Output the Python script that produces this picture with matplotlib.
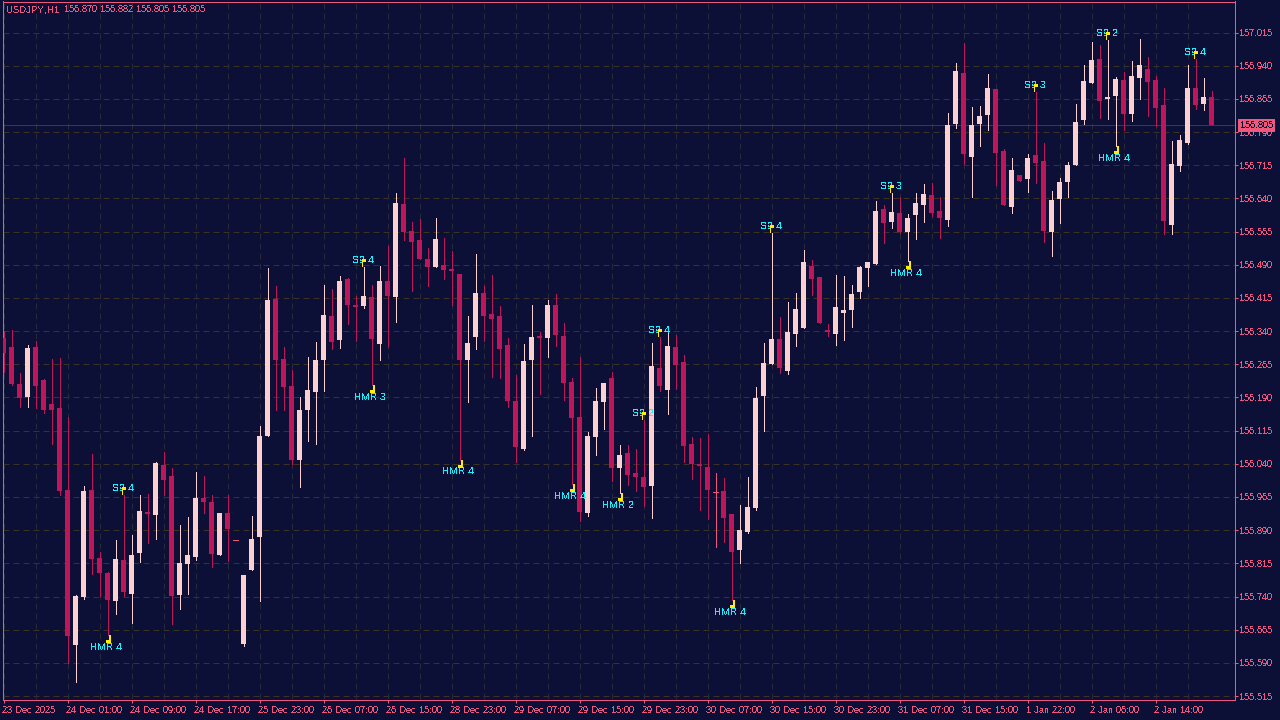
import numpy as np
import matplotlib
matplotlib.use("Agg")
import matplotlib.pyplot as plt
from matplotlib.path import Path
from matplotlib.transforms import ScaledTranslation

plt.rcParams["font.family"] = ["Liberation Sans", "DejaVu Sans"]
plt.rcParams["text.antialiased"] = False
plt.rcParams["text.hinting"] = "native"
plt.rcParams["text.hinting_factor"] = 1

# hourly USDJPY bars
opens = [
    156.324, 156.304, 156.221, 156.191, 156.304, 156.230, 156.175, 156.166, 155.981, 155.630,
    155.739, 155.981, 155.827, 155.793, 155.730, 155.823, 155.746, 155.839, 155.931, 155.924,
    156.037, 156.012, 155.743, 155.814, 155.829, 155.963, 155.954, 155.834, 155.929, 155.868,
    155.633, 155.800, 155.874, 156.103, 156.412, 156.277, 156.216, 156.049, 156.162, 156.202,
    156.275, 156.374, 156.320, 156.458, 156.399, 156.397, 156.417, 156.311, 156.453, 156.417,
    156.627, 156.566, 156.546, 156.503, 156.485, 156.489, 156.480, 156.469, 156.275, 156.327,
    156.426, 156.379, 156.374, 156.309, 156.182, 156.073, 156.275, 156.329, 156.324, 156.399,
    156.329, 156.225, 156.146, 155.929, 156.101, 156.180, 156.234, 156.030, 156.064, 156.019,
    156.010, 155.990, 156.257, 156.207, 156.304, 156.270, 156.085, 156.040, 156.033, 155.976,
    155.979, 155.926, 155.845, 155.886, 155.940, 156.193, 156.266, 156.322, 156.250, 156.333,
    156.347, 156.487, 156.462, 156.343, 156.333, 156.381, 156.388, 156.428, 156.483, 156.492,
    156.616, 156.587, 156.607, 156.564, 156.602, 156.625, 156.648, 156.611, 156.591, 156.808,
    156.923, 156.734, 156.808, 156.829, 156.887, 156.747, 156.620, 156.693, 156.684, 156.738,
    156.725, 156.564, 156.639, 156.677, 156.715, 156.817, 156.901, 156.955, 156.865, 156.871,
    156.908, 156.831, 156.912, 156.933, 156.908, 156.851, 156.580, 156.713, 156.765, 156.890,
    156.853, 156.870,
]
highs = [
    156.340, 156.343, 156.245, 156.309, 156.318, 156.232, 156.277, 156.279, 156.146, 155.743,
    155.990, 156.062, 155.841, 155.795, 155.868, 155.970, 155.879, 155.970, 155.972, 156.044,
    156.067, 156.030, 155.902, 155.920, 156.022, 156.012, 155.970, 155.929, 155.970, 155.868,
    155.788, 155.922, 156.125, 156.483, 156.442, 156.304, 156.252, 156.191, 156.281, 156.315,
    156.444, 156.435, 156.465, 156.460, 156.419, 156.485, 156.444, 156.487, 156.532, 156.652,
    156.731, 156.587, 156.593, 156.528, 156.596, 156.550, 156.521, 156.469, 156.374, 156.514,
    156.442, 156.467, 156.397, 156.324, 156.241, 156.311, 156.399, 156.338, 156.410, 156.424,
    156.358, 156.234, 156.281, 156.112, 156.211, 156.223, 156.248, 156.083, 156.083, 156.073,
    156.139, 156.313, 156.327, 156.338, 156.331, 156.286, 156.101, 156.098, 156.107, 156.019,
    156.008, 155.926, 155.947, 156.010, 156.214, 156.313, 156.562, 156.372, 156.406, 156.426,
    156.523, 156.501, 156.462, 156.356, 156.467, 156.465, 156.444, 156.487, 156.496, 156.634,
    156.625, 156.652, 156.643, 156.605, 156.652, 156.673, 156.675, 156.643, 156.833, 156.946,
    156.991, 156.847, 156.849, 156.921, 156.887, 156.752, 156.731, 156.693, 156.740, 156.880,
    156.765, 156.657, 156.686, 156.722, 156.853, 156.942, 156.994, 156.987, 156.998, 156.914,
    156.926, 156.951, 157.000, 156.960, 156.917, 156.890, 156.770, 156.783, 156.942, 156.955,
    156.912, 156.882,
]
lows = [
    156.248, 156.218, 156.168, 156.168, 156.166, 156.155, 156.085, 155.970, 155.590, 155.547,
    155.734, 155.791, 155.741, 155.653, 155.700, 155.741, 155.680, 155.818, 155.861, 155.870,
    155.970, 155.678, 155.712, 155.746, 155.823, 155.929, 155.807, 155.834, 155.820, 155.868,
    155.628, 155.800, 155.730, 156.103, 156.162, 156.162, 156.040, 155.988, 156.092, 156.085,
    156.205, 156.300, 156.302, 156.356, 156.318, 156.392, 156.218, 156.275, 156.304, 156.361,
    156.546, 156.431, 156.503, 156.442, 156.485, 156.458, 156.399, 156.049, 156.180, 156.300,
    156.318, 156.236, 156.234, 156.168, 156.044, 156.071, 156.103, 156.198, 156.281, 156.306,
    156.184, 155.994, 155.911, 155.922, 156.060, 156.119, 156.001, 155.974, 155.992, 155.979,
    155.945, 155.917, 156.205, 156.153, 156.209, 156.044, 156.006, 155.936, 155.915, 155.852,
    155.863, 155.732, 155.816, 155.884, 155.936, 156.114, 156.266, 156.245, 156.243, 156.306,
    156.347, 156.422, 156.358, 156.329, 156.309, 156.320, 156.349, 156.415, 156.442, 156.492,
    156.539, 156.573, 156.562, 156.498, 156.548, 156.587, 156.600, 156.550, 156.578, 156.799,
    156.718, 156.643, 156.758, 156.795, 156.670, 156.625, 156.607, 156.679, 156.654, 156.675,
    156.541, 156.510, 156.584, 156.643, 156.715, 156.808, 156.901, 156.822, 156.819, 156.758,
    156.795, 156.815, 156.865, 156.826, 156.804, 156.559, 156.559, 156.702, 156.763, 156.842,
    156.840, 156.805,
]
closes = [
    156.291, 156.221, 156.189, 156.302, 156.216, 156.162, 156.162, 155.979, 155.651, 155.741,
    155.979, 155.825, 155.793, 155.732, 155.825, 155.750, 155.834, 155.933, 155.926, 156.042,
    156.003, 155.741, 155.816, 155.834, 155.963, 155.954, 155.836, 155.929, 155.893, 155.868,
    155.788, 155.870, 156.103, 156.410, 156.275, 156.214, 156.049, 156.162, 156.207, 156.275,
    156.376, 156.315, 156.453, 156.399, 156.394, 156.419, 156.322, 156.453, 156.419, 156.630,
    156.564, 156.541, 156.503, 156.485, 156.548, 156.478, 156.476, 156.275, 156.313, 156.426,
    156.374, 156.367, 156.300, 156.182, 156.078, 156.272, 156.327, 156.324, 156.399, 156.331,
    156.223, 156.144, 155.931, 156.103, 156.182, 156.223, 156.030, 156.060, 156.015, 156.010,
    155.988, 156.261, 156.216, 156.306, 156.263, 156.080, 156.040, 156.035, 155.981, 155.976,
    155.917, 155.841, 155.890, 155.942, 156.189, 156.268, 156.322, 156.257, 156.338, 156.390,
    156.496, 156.458, 156.358, 156.338, 156.394, 156.388, 156.424, 156.485, 156.496, 156.612,
    156.584, 156.609, 156.564, 156.596, 156.630, 156.650, 156.607, 156.596, 156.806, 156.928,
    156.740, 156.806, 156.826, 156.890, 156.743, 156.625, 156.704, 156.679, 156.731, 156.720,
    156.566, 156.636, 156.677, 156.715, 156.813, 156.905, 156.953, 156.860, 156.869, 156.910,
    156.831, 156.917, 156.942, 156.903, 156.844, 156.589, 156.718, 156.772, 156.890, 156.851,
    156.869, 156.805,
]

# pattern labels: bar index and text
s9_bars = [15, 45, 80, 82, 96, 111, 129, 138, 149]
s9_text = ["S9 4", "S9 4", "S9 2", "S9 4", "S9 4", "S9 3", "S9 3", "S9 2", "S9 4"]
hmr_bars = [13, 46, 57, 71, 77, 91, 113, 139]
hmr_text = ["HMR 4", "HMR 3", "HMR 4", "HMR 4", "HMR 2", "HMR 4", "HMR 4", "HMR 4"]

price_ticks = [157.015 - 0.075 * i for i in range(21)]
time_labels = [
    "23 Dec 2025", "24 Dec 01:00", "24 Dec 09:00", "24 Dec 17:00", "25 Dec 23:00",
    "26 Dec 07:00", "26 Dec 15:00", "28 Dec 23:00", "29 Dec 07:00", "29 Dec 15:00",
    "29 Dec 23:00", "30 Dec 07:00", "30 Dec 15:00", "30 Dec 23:00", "31 Dec 07:00",
    "31 Dec 15:00", "1 Jan 22:00", "2 Jan 06:00", "2 Jan 14:00",
]

BG = "#0c0f36"
AXIS = "#f0577c"
BULL = "#fdd0d0"
BEAR = "#bf1659"
GRID_H = "#3c3222"
GRID_V = "#272a38"
PX = 0.72  # one pixel in points at dpi 100

opens = np.array(opens)
highs = np.array(highs)
lows = np.array(lows)
closes = np.array(closes)
idx = np.arange(len(opens))

fig = plt.figure(figsize=(12.8, 7.2), dpi=100, facecolor=BG)
ax = fig.add_axes([2.5 / 1280, 1 - 699.5 / 720, 1232 / 1280, 698 / 720], facecolor=BG)
ax.set_xlim(-0.125, 153.875)
ax.set_ylim(155.5072, 157.0851)

# grid, every 4 bars and every price tick
ax.hlines(price_ticks, -0.125, 153.875, color=GRID_H, lw=PX, ls=(0, (6, 4)), zorder=1)
ax.vlines(idx[::4], 155.5072, 157.0851, color=GRID_V, lw=PX, ls=(0, (6, 4)), zorder=1)
ax.axhline(closes[-1], color="#463a24", lw=PX, zorder=1)

up = closes > opens
down = closes < opens
flat = closes == opens
ax.vlines(idx[up], lows[up], highs[up], color=BULL, lw=PX, zorder=2, antialiased=False)
ax.vlines(idx[down], lows[down], highs[down], color=BEAR, lw=PX, zorder=2, antialiased=False)
ax.vlines(idx[flat], lows[flat], highs[flat], color=AXIS, lw=PX, zorder=2, antialiased=False)
ax.bar(idx[up], closes[up] - opens[up], bottom=opens[up], width=5 / 8, color=BULL, lw=0, zorder=3, antialiased=False)
ax.bar(idx[down], opens[down] - closes[down], bottom=closes[down], width=5 / 8, color=BEAR, lw=0, zorder=3, antialiased=False)
ax.hlines(opens[flat], idx[flat] - 2.5 / 8, idx[flat] + 2.5 / 8, color=AXIS, lw=PX, zorder=3, antialiased=False)

# little yellow hook hanging off the wick tip, outline in pixels around the tip
hook_low = Path([(1, 0), (2.5, 0), (2.5, -8), (-2, -8), (-2, -5), (1, -5), (1, 0)], closed=True)
hook_high = Path([(-1, 0), (-2.5, 0), (-2.5, 8), (2, 8), (2, 5), (-1, 5), (-1, 0)], closed=True)
hook_ms = 2 * 8 * PX

ax.plot(s9_bars, highs[s9_bars], ls="none", marker=hook_high, ms=hook_ms, mfc="#ffee00", mew=0, zorder=5)
ax.plot(hmr_bars, lows[hmr_bars], ls="none", marker=hook_low, ms=hook_ms, mfc="#ffee00", mew=0, zorder=5)

for bar, txt in zip(s9_bars, s9_text):
    ax.annotate(txt, (bar, highs[bar]), xytext=(0, 6.5), textcoords="offset pixels", color="#19f0ff",
                fontsize=7.2, ha="center", va="center", zorder=4)
for bar, txt in zip(hmr_bars, hmr_text):
    ax.annotate(txt, (bar, lows[bar]), xytext=(-2, -12), textcoords="offset pixels", color="#19f0ff",
                fontsize=7.2, ha="center", va="center", zorder=4)

for side in ax.spines.values():
    side.set_color(AXIS)
    side.set_linewidth(PX)

ax.yaxis.tick_right()
ax.set_yticks(price_ticks, [f"{p:.3f}" for p in price_ticks])
ax.set_xticks(idx[::8], time_labels)
ax.tick_params(axis="both", colors=AXIS, length=2.5, width=PX, labelsize=6.5)
ax.tick_params(axis="y", pad=1.2)
ax.tick_params(axis="x", pad=2.5)
shift_left = ScaledTranslation(-2 / 100, 0, fig.dpi_scale_trans)
for lbl in ax.get_xticklabels():
    lbl.set_ha("left")
    lbl.set_transform(lbl.get_transform() + shift_left)

# current price tag over the axis labels
ax.annotate(f"{closes[-1]:.3f}", (1, closes[-1]), xycoords=("axes fraction", "data"), xytext=(22, 0),
            textcoords="offset pixels", color=BG, fontsize=6.5, ha="center", va="center", zorder=10,
            annotation_clip=False,
            bbox=dict(boxstyle="square,pad=0.25", fc=AXIS, ec=AXIS, lw=0))

# header line
header = ["USDJPY,H1", f"{opens[-1]:.3f}", f"{highs[-1]:.3f}", f"{lows[-1]:.3f}", f"{closes[-1]:.3f}"]
for x_px, txt in zip([6, 64, 100, 136, 172], header):
    fig.text(x_px / 1280, 1 - 10 / 720, txt, color=AXIS, fontsize=6.5, ha="left", va="center")

fig.savefig("out.png", dpi=100, facecolor=BG)
